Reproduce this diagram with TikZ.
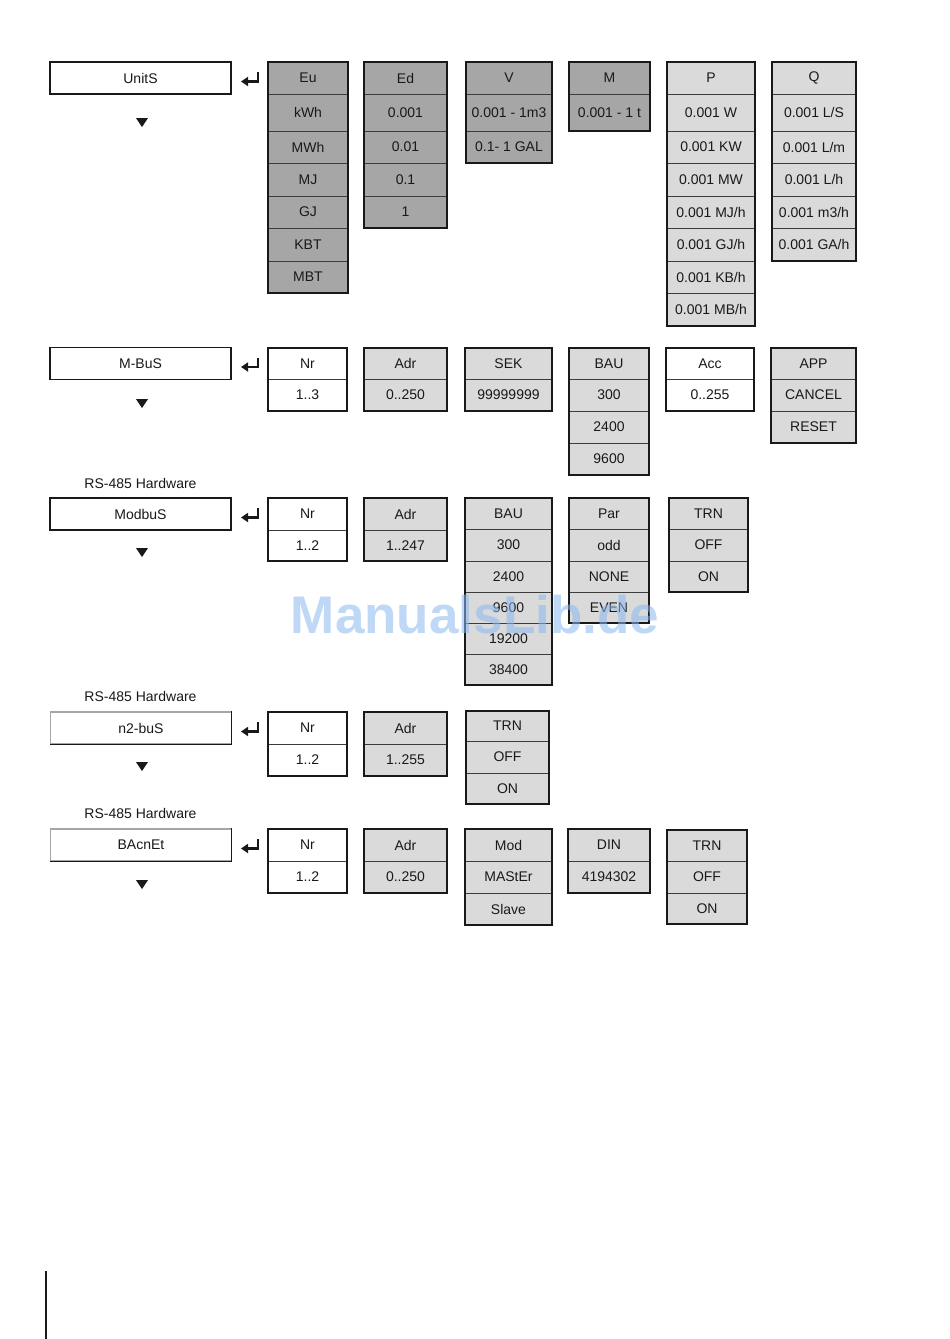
\documentclass[tikz,border=0pt]{standalone}
\usepackage{fontspec}
\setmainfont{Liberation Sans}
\usetikzlibrary{calc,arrows.meta}
\definecolor{darkcell}{RGB}{166,166,166}
\definecolor{lightcell}{RGB}{218,218,218}
\definecolor{ink}{RGB}{25,25,25}
\definecolor{wmark}{RGB}{140,185,240}
\tikzset{
  txt/.style={font=\fontsize{14}{16}\selectfont, text=ink},
  cellbox/.style={txt, draw=ink!85, line width=0.9pt, inner sep=0pt, outer sep=0pt},
  colframe/.style={draw=ink, line width=1.8pt},
  menubox/.style={txt, draw=ink, line width=1.4pt, fill=white, inner sep=0pt,
    minimum width=181pt, minimum height=32pt},
  hwbox/.style={txt, draw=gray!70, line width=1.6pt, fill=white, inner sep=0pt,
    minimum width=181pt, minimum height=32pt},
  retarrow/.style={draw=ink, line width=2.3pt, line join=miter,
    -{Triangle[length=7pt,width=9pt]}},
  downtri/.style={fill=ink},
  hwlabel/.style={txt},
}
% \mcol{id}{x1}{x2}{fill}{y1/y2/label,...}
\newcommand\mcol[5]{%
  \foreach \ya/\yb/\lbl [count=\i] in {#5}{%
    \pgfmathsetmacro\cw{#3-#2}\pgfmathsetmacro\ch{\yb-\ya}%
    \pgfmathsetmacro\cx{(#2+#3)/2}\pgfmathsetmacro\cy{(\ya+\yb)/2}%
    \node[cellbox, fill=#4, minimum width=\cw pt, minimum height=\ch pt] (#1-\i) at (\cx,\cy) {\lbl};
    \ifnum\i=1 \xdef\firstya{\ya}\fi
    \xdef\lastyb{\yb}%
  }%
  \draw[colframe] (#2,\firstya) rectangle (#3,\lastyb);%
}
% \retarr{id}{centre y}
\newcommand\retarr[2]{%
  \coordinate (#1-a) at (258,{#2-6});
  \coordinate (#1-b) at (258,{#2+3.5});
  \coordinate (#1-c) at (241,{#2+3.5});
  \draw[retarrow] (#1-a) -- (#1-b) -- (#1-c);%
}
% \dtri{top y}
\newcommand\dtri[1]{%
  \fill[downtri] (136,#1) -- (148,#1) -- (142,{#1+9}) -- cycle;%
}
\begin{document}
\begin{tikzpicture}[x=1pt,y=-1pt]
\fill[white] (0,0) rectangle (950,1339);
\useasboundingbox (0,0) rectangle (950,1339);

% ---------- Row 1: UnitS ----------
\node[menubox] (units) at (140.5,78) {UnitS};
\retarr{r1}{78}
\dtri{118}
\mcol{eu}{268}{348}{darkcell}{62/94/Eu, 94/131/kWh, 131/163/MWh, 163/196/MJ, 196/228/GJ, 228/261/KBT, 261/293/MBT}
\mcol{ed}{364}{447}{darkcell}{62/94/Ed, 94/131/0.001, 131/163/0.01, 163/196/0.1, 196/228/1}
\mcol{v}{466}{552}{darkcell}{62/94/V, 94/131/{0.001 - 1m3}, 131/163/{0.1- 1 GAL}}
\mcol{m}{569}{650}{darkcell}{62/94/M, 94/131/{0.001 - 1 t}}
\mcol{p}{667}{755}{lightcell}{62/94/P, 94/131/{0.001 W}, 131/163/{0.001 KW}, 163/196/{0.001 MW}, 196/228/{0.001 MJ/h}, 228/261/{0.001 GJ/h}, 261/293/{0.001 KB/h}, 293/326/{0.001 MB/h}}
\mcol{q}{772}{856}{lightcell}{62/94/Q, 94/131/{0.001 L/S}, 131/163/{0.001 L/m}, 163/196/{0.001 L/h}, 196/228/{0.001 m3/h}, 228/261/{0.001 GA/h}}

% ---------- Row 2: M-BuS ----------
\node[menubox] (mbus) at (140.5,363.5) {M-BuS};
\retarr{r2}{363.5}
\dtri{399}
\mcol{nr2}{268}{347}{white}{348/379/Nr, 379/411/1..3}
\mcol{adr2}{364}{447}{lightcell}{348/379/Adr, 379/411/0..250}
\mcol{sek2}{465}{552}{lightcell}{348/379/SEK, 379/411/99999999}
\mcol{bau2}{569}{649}{lightcell}{348/379/BAU, 379/411/300, 411/443/2400, 443/475/9600}
\mcol{acc2}{666}{754}{white}{348/379/Acc, 379/411/0..255}
\mcol{app2}{771}{856}{lightcell}{348/379/APP, 379/411/CANCEL, 411/443/RESET}

% ---------- Row 3: ModbuS ----------
\node[hwlabel] (hw3) at (140.5,483) {RS-485 Hardware};
\node[menubox] (modbus) at (140.5,514) {ModbuS};
\retarr{r3}{514}
\dtri{548}
\mcol{nr3}{268}{347}{white}{498/530/Nr, 530/561/1..2}
\mcol{adr3}{364}{447}{lightcell}{498/530/Adr, 530/561/1..247}
\mcol{bau3}{465}{552}{lightcell}{498/529/BAU, 529/561/300, 561/592/2400, 592/623/9600, 623/654/19200, 654/685/38400}
\mcol{par3}{569}{649}{lightcell}{498/529/Par, 529/561/odd, 561/592/NONE, 592/623/EVEN}
\mcol{trn3}{669}{748}{lightcell}{498/529/TRN, 529/561/OFF, 561/592/ON}

% ---------- Row 4: n2-buS ----------
\node[hwlabel] (hw4) at (140.5,696) {RS-485 Hardware};
\node[hwbox] (n2bus) at (141,728) {n2-buS};
\draw[ink, line width=1.2pt] ($(n2bus.north east)+(-0.6,0)$) -- ($(n2bus.south east)+(-0.6,-0.6)$) -- ($(n2bus.south west)+(0,-0.6)$);
\retarr{r4}{728}
\dtri{762}
\mcol{nr4}{268}{347}{white}{712/744/Nr, 744/776/1..2}
\mcol{adr4}{364}{447}{lightcell}{712/744/Adr, 744/776/1..255}
\mcol{trn4}{466}{549}{lightcell}{711/741/TRN, 741/773/OFF, 773/804/ON}

% ---------- Row 5: BAcnEt ----------
\node[hwlabel] (hw5) at (140.5,813) {RS-485 Hardware};
\node[hwbox] (bacnet) at (141,845) {BAcnEt};
\draw[ink, line width=1.2pt] ($(bacnet.north east)+(-0.6,0)$) -- ($(bacnet.south east)+(-0.6,-0.6)$) -- ($(bacnet.south west)+(0,-0.6)$);
\retarr{r5}{845}
\dtri{880}
\mcol{nr5}{268}{347}{white}{829/861/Nr, 861/893/1..2}
\mcol{adr5}{364}{447}{lightcell}{829/861/Adr, 861/893/0..250}
\mcol{mod5}{465}{552}{lightcell}{829/861/Mod, 861/893/MAStEr, 893/925/Slave}
\mcol{din5}{568}{650}{lightcell}{829/861/DIN, 861/893/4194302}
\mcol{trn5}{667}{747}{lightcell}{830/861/TRN, 861/893/OFF, 893/924/ON}

% ---------- watermark ----------
\node[font=\fontsize{53}{60}\selectfont\bfseries, text=wmark, opacity=0.55, inner sep=0pt] (wm) at (475,615) {ManualsLib.de};

% ---------- page margin line ----------
\draw[ink, line width=2.4pt] (45.8,1271) -- (45.8,1339);
\end{tikzpicture}
\end{document}
